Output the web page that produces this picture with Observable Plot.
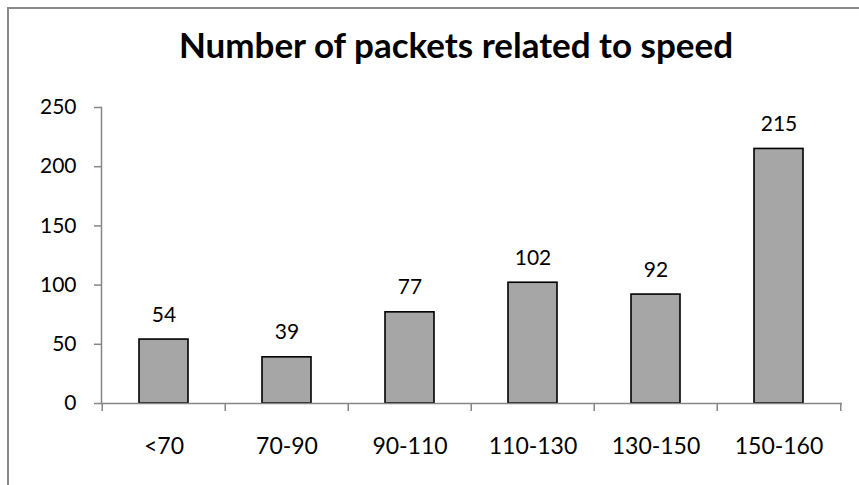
<!DOCTYPE html>
<html>
<head>
<meta charset="utf-8">
<script src="https://cdn.jsdelivr.net/npm/d3@7"></script>
<script src="https://cdn.jsdelivr.net/npm/@observablehq/plot@0.6"></script>
<style>
  html, body { margin: 0; padding: 0; background: #fff; overflow: hidden; }
  #wrap { position: relative; width: 859px; height: 485px; overflow: hidden; background: #fff; }
  #border { position: absolute; left: 7px; top: 7px; width: 1000px; height: 1000px; border: 2px solid #8a8a8a; box-sizing: border-box; }
  #title { position: absolute; left: 0; top: 23px; width: 912px; text-align: center; font-family: Lato, "Open Sans", sans-serif; font-weight: bold; font-size: 35px; line-height: 1.2; color: #000; z-index: 2; white-space: nowrap; }
  #plot { position: absolute; left: 0; top: 0; z-index: 1; }
</style>
</head>
<body>
<div id="wrap">
  <div id="border"></div>
  <div id="title">Number of packets related to speed</div>
  <div id="plot"></div>
</div>
<script>
const categories = ["<70", "70-90", "90-110", "110-130", "130-150", "150-160"];
const packets = [54, 39, 77, 102, 92, 215];
const yTicks = [0, 50, 100, 150, 200, 250];

const data = categories.map((c, i) => ({speed: c, packets: packets[i]}));

const W = 859, H = 485, mL = 101, mR = 17, mT = 107, mB = 82;
const step = (W - mL - mR) / categories.length;
const axisGray = "#868686";

const chart = Plot.plot({
  width: W,
  height: H,
  marginLeft: mL,
  marginRight: mR,
  marginTop: mT,
  marginBottom: mB,
  style: {fontFamily: "Lato, 'Open Sans', sans-serif", fontSize: "21px", color: "#000", background: "transparent", overflow: "visible"},
  x: {domain: categories, paddingInner: 0.6, paddingOuter: 0.3, axis: null, label: null},
  y: {domain: [0, 250], axis: null, label: null},
  marks: [
    Plot.barY(data, {x: "speed", y: "packets", fill: "#a6a6a6", stroke: "#000", strokeWidth: 1.6}),
    Plot.text(data, {x: "speed", y: "packets", text: d => String(d.packets), lineAnchor: "bottom", dy: -18, fontSize: 21, fill: "#000"}),
    Plot.frame({anchor: "left", stroke: axisGray, strokeWidth: 1.5}),
    Plot.ruleY([0], {stroke: axisGray, strokeWidth: 1.5}),
    Plot.axisY({ticks: yTicks, tickSize: 7, tickPadding: 18, stroke: axisGray, strokeWidth: 1.5, fill: "#000", fontSize: 21, tickFormat: d => String(d), label: null}),
    Plot.ruleX(categories, {x: d => d, dx: -step / 2, y1: 0, y2: 0, insetBottom: -8, stroke: axisGray, strokeWidth: 1.5}),
    Plot.ruleX([categories[categories.length - 1]], {x: d => d, dx: step / 2, y1: 0, y2: 0, insetBottom: -8, stroke: axisGray, strokeWidth: 1.5}),
    Plot.axisX({tickSize: 0, tickPadding: 34, fontSize: 23, fill: "#000", label: null})
  ]
});
document.getElementById("plot").appendChild(chart);
</script>
</body>
</html>
